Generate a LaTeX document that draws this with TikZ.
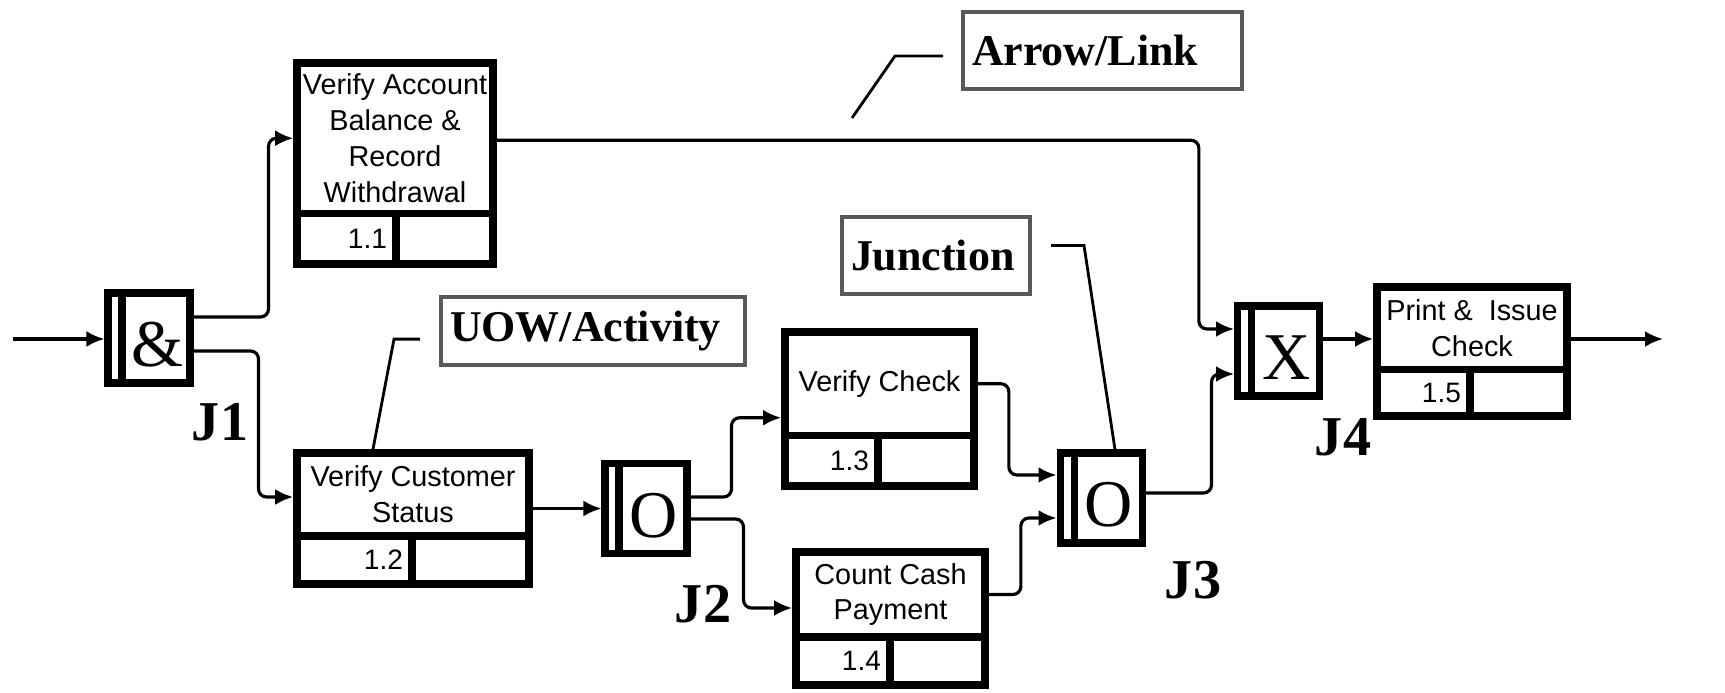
\documentclass[tikz,border=0pt]{standalone}
\usepackage{fontspec}
\setmainfont{Liberation Serif}
\setsansfont{Liberation Sans}
\usetikzlibrary{arrows.meta, positioning, calc}

\begin{document}
\begin{tikzpicture}[
    x=0.1mm, y=-0.1mm,
    uow/.style={draw, line width=2.2pt, align=center, inner sep=1pt,
                font=\sffamily\fontsize{8.2}{10.2}\selectfont},
    idcell/.style={draw, line width=2.2pt, inner xsep=0.9mm, inner ysep=0pt, align=right,
                   font=\sffamily\fontsize{8}{9}\selectfont},
    junc/.style={draw, line width=2pt, minimum width=8.2mm, minimum height=9mm, inner sep=0pt,
                 font=\fontsize{19}{19}\selectfont, text height=5.8mm, text depth=0pt,
                 execute at begin node={\hspace*{1.6mm}},
                 path picture={\draw[line width=2pt]
                   ([xshift=1.4mm]path picture bounding box.north west) --
                   ([xshift=1.4mm]path picture bounding box.south west);}},
    note/.style={draw=black!65, line width=1.2pt, align=left, inner xsep=0.9mm, inner ysep=0pt,
                 font=\bfseries\fontsize{12.5}{14}\selectfont},
    jlbl/.style={font=\bfseries\fontsize{16}{16}\selectfont, inner sep=0pt},
    arr/.style={-{Latex[length=1.8mm, width=1.6mm]}, line width=0.9pt, rounded corners=0.8mm},
    lead/.style={line width=0.8pt}
  ]
    \useasboundingbox (0,0) rectangle (1725,693);

    \node[junc] (j1) at (149,338) {\&};
    \node[junc] (j2) at (646,508.5) {O};
    \node[junc] (j3) at (1101,498) {O};
    \node[junc] (j4) at (1278.5,351) {X};

    \node[uow, minimum width=19.6mm, minimum height=15.05mm] (a1) at (395,138.25)
      {Verify Account\\Balance \&\\Record\\Withdrawal};
    \node[idcell, text width=8.1mm, minimum height=5.05mm, below right=-2.2pt and 0mm of a1.south west] (a1n) {1.1};
    \node[idcell, minimum width=9.7mm, minimum height=5.05mm, below left=-2.2pt and 0mm of a1.south east] (a1e) {};

    \node[uow, minimum width=23.2mm, minimum height=8.3mm] (a2) at (413,494.5)
      {Verify Customer\\Status};
    \node[idcell, text width=9.7mm, minimum height=4.8mm, below right=-2.2pt and 0mm of a2.south west] (a2n) {1.2};
    \node[idcell, minimum width=11.7mm, minimum height=4.8mm, below left=-2.2pt and 0mm of a2.south east] (a2e) {};

    \node[uow, minimum width=18.9mm, minimum height=10.35mm] (a3) at (879.5,383.75)
      {Verify Check};
    \node[idcell, text width=7.5mm, minimum height=5.05mm, below right=-2.2pt and 0mm of a3.south west] (a3n) {1.3};
    \node[idcell, minimum width=9.6mm, minimum height=5.05mm, below left=-2.2pt and 0mm of a3.south east] (a3e) {};

    \node[uow, minimum width=18.9mm, minimum height=8.5mm] (a4) at (890.5,594.5)
      {Count Cash\\Payment};
    \node[idcell, text width=7.6mm, minimum height=4.8mm, below right=-2.2pt and 0mm of a4.south west] (a4n) {1.4};
    \node[idcell, minimum width=9.5mm, minimum height=4.8mm, below left=-2.2pt and 0mm of a4.south east] (a4e) {};

    \node[uow, minimum width=19mm, minimum height=8.25mm] (a5) at (1472,328.25)
      {Print \& \ Issue\\Check};
    \node[idcell, text width=7.5mm, minimum height=4.65mm, below right=-2.2pt and 0mm of a5.south west] (a5n) {1.5};
    \node[idcell, minimum width=9.7mm, minimum height=4.65mm, below left=-2.2pt and 0mm of a5.south east] (a5e) {};

    \node[jlbl] (j1l) at (220,422) {J1};
    \node[jlbl] (j2l) at (703,604) {J2};
    \node[jlbl] (j3l) at (1193,580) {J3};
    \node[jlbl] (j4l) at (1343,437) {J4};

    \node[note, text width=28.6mm, minimum height=6.8mm] (uowl) at (593,331) {UOW/Activity};
    \node[note, text width=17mm, minimum height=7.7mm] (juncl) at (936,255.5) {Junction};
    \node[note, text width=26.1mm, minimum height=7.7mm] (linkl) at (1102.5,50.5) {Arrow/Link};

    \coordinate (entry) at (13,339);
    \coordinate (exit) at (1663,339);
    \coordinate (linkfoot) at (852,118);

    \draw[arr] (entry) -- (entry -| j1.west);
    \draw[arr] ([yshift=2.1mm]j1.east) -- ++(7.5mm,0mm) |- (a1);
    \draw[arr] ([yshift=-1.3mm]j1.east) -- ++(6.5mm,0mm) |- ([yshift=-0.25mm]a2.west);
    \draw[arr] (a2.east |- j2) -- (j2);
    \draw[arr] ([yshift=1.15mm]j2.east) -- ++(4.1mm,0mm) |- ([yshift=-3.4mm]a3.west);
    \draw[arr] ([yshift=-1.05mm]j2.east) -- ++(5.3mm,0mm) |- ([yshift=-1.35mm]a4.west);
    \draw[arr] (a3.east) -- ++(3.1mm,0mm) |- ([yshift=2.3mm]j3.west);
    \draw[arr] (a4.east) -- ++(3.2mm,0mm) |- ([yshift=-2mm]j3.west);
    \draw[arr] ([yshift=0.5mm]j3.east) -- ++(6.6mm,0mm) |- ([yshift=-2.3mm]j4.west);
    \draw[arr] ([yshift=-0.2mm]a1.east) -- ++(70.2mm,0mm) |- ([yshift=2.2mm]j4.west);
    \draw[arr] ([yshift=1.2mm]j4.east) -- ([yshift=1.2mm]j4.east -| a5.west);
    \draw[arr] (a5.east |- exit) -- (exit);

    \draw[lead] ([xshift=-4mm]a2.north) -- ++(2.1mm,11mm) -- ++(2.6mm,0mm);
    \draw[lead] ([xshift=1.4mm]j3.north) -- ++(-3.1mm,20.4mm) -- ++(-3.3mm,0mm);
    \draw[lead] (linkfoot) -- ++(4.3mm,6.2mm) -- ++(4.8mm,0mm);
  \end{tikzpicture}
\end{document}
